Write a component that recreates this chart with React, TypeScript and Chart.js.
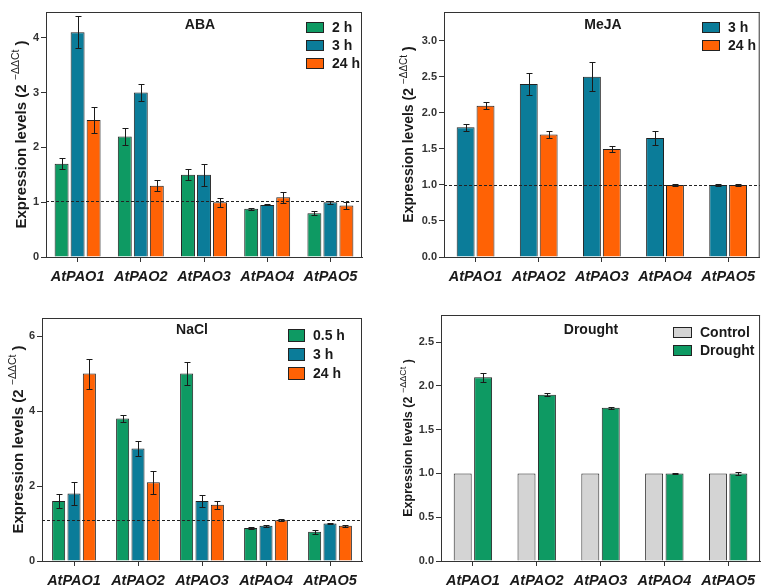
import React, { useEffect, useRef } from 'react';
import { Chart, registerables } from 'chart.js';

Chart.register(...registerables);

// ---------------- data ----------------
const categories = ['AtPAO1', 'AtPAO2', 'AtPAO3', 'AtPAO4', 'AtPAO5'];

const abaLabels = ['2 h', '3 h', '24 h'];
const aba2h = [1.7, 2.2, 1.5, 0.88, 0.8];
const aba2hErr = [0.1, 0.15, 0.1, 0.02, 0.04];
const aba3h = [4.1, 3.0, 1.5, 0.95, 1.0];
const aba3hErr = [0.29, 0.15, 0.2, 0.01, 0.03];
const aba24h = [2.5, 1.3, 1.0, 1.09, 0.94];
const aba24hErr = [0.24, 0.1, 0.08, 0.1, 0.07];
const abaRef = 1.02;

const mejaLabels = ['3 h', '24 h'];
const meja3h = [1.8, 2.4, 2.5, 1.65, 1.0];
const meja3hErr = [0.05, 0.15, 0.2, 0.1, 0.01];
const meja24h = [2.1, 1.7, 1.5, 1.0, 1.0];
const meja24hErr = [0.05, 0.05, 0.04, 0.01, 0.01];
const mejaRef = 1.0;

const naclLabels = ['0.5 h', '3 h', '24 h'];
const nacl05h = [1.6, 3.8, 5.0, 0.88, 0.78];
const nacl05hErr = [0.18, 0.09, 0.3, 0.02, 0.05];
const nacl3h = [1.8, 3.0, 1.6, 0.94, 1.0];
const nacl3hErr = [0.3, 0.2, 0.15, 0.02, 0.02];
const nacl24h = [5.0, 2.1, 1.5, 1.09, 0.94];
const nacl24hErr = [0.4, 0.3, 0.1, 0.02, 0.02];
const naclRef = 1.09;

const droughtLabels = ['Control', 'Drought'];
const droughtControl = [1.0, 1.0, 1.0, 1.0, 1.0];
const droughtTreated = [2.1, 1.9, 1.75, 1.0, 1.0];
const droughtTreatedErr = [0.05, 0.02, 0.01, 0.01, 0.02];

// ---------------- styles ----------------
const GREEN = '#0e9a63';
const TEAL = '#0b7c99';
const ORANGE = '#ff6205';
const GRAY = '#d4d4d4';
const FONT = '"Liberation Sans", Arial, Helvetica, sans-serif';

type DS = { label: string; data: number[]; err?: number[]; color: string };
type PanelCfg = {
  left: number; top: number; width: number; height: number;
  area: { l: number; t: number; r: number; b: number };
  yMax: number; step: number; decimals: number;
  title: string; titleX: number; titleY: number; titleSize: number;
  legendX: number; legendY: number; legendRow: number; boxW: number; boxH: number; legendSize: number;
  yTitleX: number; yTitleSize: number; supSize: number;
  refLine?: number;
  catPct: number; barPct: number;
  datasets: DS[];
};

const panels: PanelCfg[] = [
  {
    left: 0, top: 0, width: 380, height: 290,
    area: { l: 46, t: 12, r: 362, b: 257 },
    yMax: 4.47, step: 1, decimals: 0,
    title: 'ABA', titleX: 200, titleY: 25, titleSize: 14,
    legendX: 306, legendY: 27, legendRow: 18, boxW: 18, boxH: 11, legendSize: 14,
    yTitleX: 26, yTitleSize: 15, supSize: 10.5,
    refLine: abaRef, catPct: 0.76, barPct: 0.87,
    datasets: [
      { label: abaLabels[0], data: aba2h, err: aba2hErr, color: GREEN },
      { label: abaLabels[1], data: aba3h, err: aba3hErr, color: TEAL },
      { label: abaLabels[2], data: aba24h, err: aba24hErr, color: ORANGE },
    ],
  },
  {
    left: 380, top: 0, width: 381, height: 290,
    area: { l: 64, t: 12, r: 381, b: 257 },
    yMax: 3.4, step: 0.5, decimals: 1,
    title: 'MeJA', titleX: 223, titleY: 25, titleSize: 14,
    legendX: 322, legendY: 27, legendRow: 18, boxW: 18, boxH: 11, legendSize: 14,
    yTitleX: 33, yTitleSize: 14, supSize: 10,
    refLine: mejaRef, catPct: 0.63, barPct: 0.9,
    datasets: [
      { label: mejaLabels[0], data: meja3h, err: meja3hErr, color: TEAL },
      { label: mejaLabels[1], data: meja24h, err: meja24hErr, color: ORANGE },
    ],
  },
  {
    left: 0, top: 290, width: 380, height: 295,
    area: { l: 42, t: 28, r: 362, b: 271 },
    yMax: 6.48, step: 2, decimals: 0,
    title: 'NaCl', titleX: 192, titleY: 40, titleSize: 14,
    legendX: 288, legendY: 45, legendRow: 19, boxW: 17, boxH: 13, legendSize: 14,
    yTitleX: 23, yTitleSize: 15, supSize: 10.5,
    refLine: naclRef, catPct: 0.72, barPct: 0.85,
    datasets: [
      { label: naclLabels[0], data: nacl05h, err: nacl05hErr, color: GREEN },
      { label: naclLabels[1], data: nacl3h, err: nacl3hErr, color: TEAL },
      { label: naclLabels[2], data: nacl24h, err: nacl24hErr, color: ORANGE },
    ],
  },
  {
    left: 380, top: 290, width: 381, height: 295,
    area: { l: 61, t: 25, r: 381, b: 271 },
    yMax: 2.81, step: 0.5, decimals: 1,
    title: 'Drought', titleX: 211, titleY: 40, titleSize: 14,
    legendX: 293, legendY: 42, legendRow: 18, boxW: 19, boxH: 11, legendSize: 14,
    yTitleX: 32, yTitleSize: 12.5, supSize: 9,
    catPct: 0.64, barPct: 0.88,
    datasets: [
      { label: droughtLabels[0], data: droughtControl, color: GRAY },
      { label: droughtLabels[1], data: droughtTreated, err: droughtTreatedErr, color: GREEN },
    ],
  },
];

function makePlugin(cfg: PanelCfg) {
  return {
    id: 'decor',
    afterDatasetsDraw(chart: any) {
      const ctx = chart.ctx as CanvasRenderingContext2D;
      const ca = chart.chartArea;
      const ys = chart.scales.y;
      if (cfg.refLine != null) {
        const y = Math.round(ys.getPixelForValue(cfg.refLine)) + 0.5;
        ctx.save();
        ctx.strokeStyle = '#222';
        ctx.lineWidth = 1;
        ctx.setLineDash([3, 2]);
        ctx.beginPath();
        ctx.moveTo(ca.left, y);
        ctx.lineTo(ca.right, y);
        ctx.stroke();
        ctx.restore();
      }
      ctx.save();
      ctx.strokeStyle = '#1a1a1a';
      ctx.lineWidth = 1;
      chart.data.datasets.forEach((ds: any, di: number) => {
        const errs = cfg.datasets[di].err;
        if (!errs) return;
        const meta = chart.getDatasetMeta(di);
        meta.data.forEach((el: any, i: number) => {
          const v = ds.data[i];
          const e = errs[i];
          const x = Math.round(el.x) + 0.5;
          const y1 = Math.round(ys.getPixelForValue(v + e)) + 0.5;
          const y2 = Math.round(ys.getPixelForValue(v - e)) + 0.5;
          ctx.beginPath();
          ctx.moveTo(x, y1); ctx.lineTo(x, y2);
          ctx.moveTo(x - 3, y1); ctx.lineTo(x + 3, y1);
          ctx.moveTo(x - 3, y2); ctx.lineTo(x + 3, y2);
          ctx.stroke();
        });
      });
      ctx.restore();
    },
    afterDraw(chart: any) {
      const ctx = chart.ctx as CanvasRenderingContext2D;
      const ca = chart.chartArea;
      ctx.save();
      // frame top & right
      ctx.strokeStyle = '#333';
      ctx.lineWidth = 1;
      ctx.beginPath();
      ctx.moveTo(ca.left, ca.top + 0.5);
      ctx.lineTo(ca.right, ca.top + 0.5);
      ctx.moveTo(ca.right - 0.5, ca.top);
      ctx.lineTo(ca.right - 0.5, ca.bottom);
      ctx.stroke();
      // title
      ctx.fillStyle = '#1a1a1a';
      ctx.font = `bold ${cfg.titleSize}px ${FONT}`;
      ctx.textAlign = 'center';
      ctx.textBaseline = 'middle';
      ctx.fillText(cfg.title, cfg.titleX, cfg.titleY);
      // legend
      ctx.textAlign = 'left';
      ctx.font = `bold ${cfg.legendSize}px ${FONT}`;
      cfg.datasets.forEach((d, i) => {
        const cy = cfg.legendY + i * cfg.legendRow;
        const bx = cfg.legendX;
        const by = Math.round(cy - cfg.boxH / 2);
        ctx.fillStyle = d.color;
        ctx.fillRect(bx, by, cfg.boxW, cfg.boxH);
        ctx.strokeStyle = '#222';
        ctx.strokeRect(bx + 0.5, by + 0.5, cfg.boxW - 1, cfg.boxH - 1);
        ctx.fillStyle = '#1a1a1a';
        ctx.fillText(d.label, bx + cfg.boxW + 8, cy + 1);
      });
      // y-axis title with superscript
      const main = 'Expression levels (2 ';
      const sup = '\u2212\u0394\u0394Ct';
      const close = ' )';
      const bold = `bold ${cfg.yTitleSize}px ${FONT}`;
      const supFont = `${cfg.supSize}px ${FONT}`;
      ctx.font = bold;
      const w1 = ctx.measureText(main).width;
      const w3 = ctx.measureText(close).width;
      ctx.font = supFont;
      const w2 = ctx.measureText(sup).width;
      const total = w1 + w2 + w3;
      ctx.translate(cfg.yTitleX, (ca.top + ca.bottom) / 2);
      ctx.rotate(-Math.PI / 2);
      ctx.textBaseline = 'alphabetic';
      ctx.fillStyle = '#1a1a1a';
      let x = -total / 2;
      ctx.font = bold;
      ctx.fillText(main, x, 0);
      x += w1;
      ctx.font = supFont;
      ctx.fillText(sup, x, -cfg.yTitleSize * 0.45);
      x += w2;
      ctx.font = bold;
      ctx.fillText(close, x, 0);
      ctx.restore();
    },
  };
}

function Panel({ cfg }: { cfg: PanelCfg }) {
  const ref = useRef<HTMLCanvasElement | null>(null);
  useEffect(() => {
    if (!ref.current) return;
    const chart = new Chart(ref.current, {
      type: 'bar',
      data: {
        labels: categories,
        datasets: cfg.datasets.map((d) => ({
          label: d.label,
          data: d.data,
          backgroundColor: d.color,
          borderColor: '#222',
          borderWidth: 1,
          categoryPercentage: cfg.catPct,
          barPercentage: cfg.barPct,
        })),
      },
      options: {
        responsive: false,
        animation: false,
        devicePixelRatio: 1,
        layout: {
          padding: { left: 0, top: cfg.area.t, right: cfg.width - cfg.area.r, bottom: 0 },
        },
        plugins: {
          legend: { display: false },
          tooltip: { enabled: false },
          title: { display: false },
        },
        scales: {
          x: {
            type: 'category',
            offset: true,
            grid: { display: true, drawOnChartArea: false, drawTicks: true, tickLength: 5, color: '#333', offset: false },
            border: { display: true, color: '#333', width: 1 },
            ticks: {
              font: { family: FONT, size: 14.5, weight: 'bold', style: 'italic' },
              color: '#1a1a1a',
              padding: 6,
              maxRotation: 0,
              autoSkip: false,
            },
            afterFit: (s: any) => { s.height = cfg.height - cfg.area.b; },
          },
          y: {
            min: 0,
            max: cfg.yMax,
            grid: { display: true, drawOnChartArea: false, drawTicks: true, tickLength: 5, color: '#333' },
            border: { display: true, color: '#333', width: 1 },
            ticks: {
              stepSize: cfg.step,
              includeBounds: false,
              callback: (v: any) => Number(v).toFixed(cfg.decimals),
              font: { family: FONT, size: 11, weight: 'bold' },
              color: '#333',
              padding: 2,
            },
            afterFit: (s: any) => { s.width = cfg.area.l; },
          },
        },
      } as any,
      plugins: [makePlugin(cfg)],
    });
    return () => chart.destroy();
  }, [cfg]);
  return (
    <canvas
      ref={ref}
      width={cfg.width}
      height={cfg.height}
      style={{ position: 'absolute', left: cfg.left, top: cfg.top, width: cfg.width, height: cfg.height }}
    />
  );
}

export default function App() {
  return (
    <div style={{ position: 'absolute', left: 0, top: 0, width: 761, height: 585, background: '#fff', overflow: 'hidden' }}>
      {panels.map((p, i) => (
        <Panel key={i} cfg={p} />
      ))}
    </div>
  );
}
